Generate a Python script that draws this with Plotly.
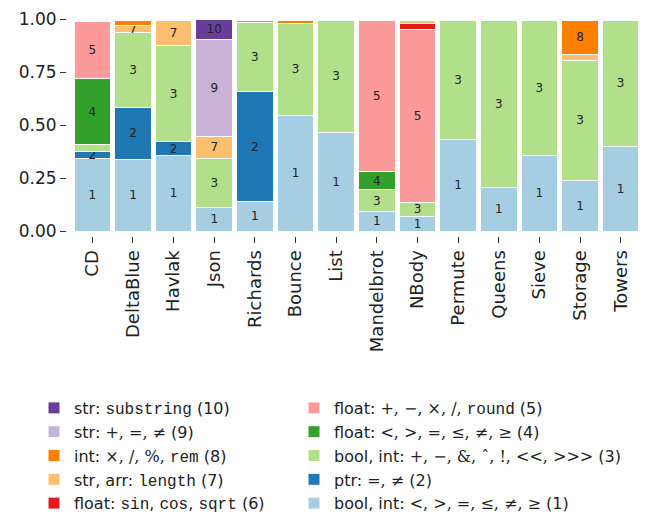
import plotly.graph_objects as go

benchmarks = ["CD", "DeltaBlue", "Havlak", "Json", "Richards", "Bounce", "List",
              "Mandelbrot", "NBody", "Permute", "Queens", "Sieve", "Storage", "Towers"]

# fraction of operations per category (1..10), stacked bottom->top
cat1 = [0.340, 0.337, 0.357, 0.113, 0.137, 0.546, 0.463, 0.093, 0.068, 0.433, 0.205, 0.357, 0.239, 0.397]
cat2 = [0.036, 0.246, 0.063, 0.0, 0.523, 0.0, 0.0, 0.0, 0.0, 0.0, 0.0, 0.0, 0.0, 0.0]
cat3 = [0.030, 0.352, 0.454, 0.230, 0.324, 0.433, 0.532, 0.101, 0.068, 0.562, 0.790, 0.638, 0.567, 0.598]
cat4 = [0.315, 0.0, 0.0, 0.0, 0.0, 0.0, 0.0, 0.088, 0.0, 0.0, 0.0, 0.0, 0.0, 0.0]
cat5 = [0.265, 0.0, 0.0, 0.0, 0.0, 0.0, 0.0, 0.713, 0.816, 0.0, 0.0, 0.0, 0.0, 0.0]
cat6 = [0.0, 0.0, 0.0, 0.0, 0.0, 0.0, 0.0, 0.0, 0.028, 0.0, 0.0, 0.0, 0.0, 0.0]
cat7 = [0.0, 0.034, 0.121, 0.104, 0.0, 0.0, 0.0, 0.0, 0.015, 0.0, 0.0, 0.0, 0.027, 0.0]
cat8 = [0.0, 0.025, 0.0, 0.0, 0.010, 0.012, 0.0, 0.0, 0.0, 0.0, 0.0, 0.0, 0.162, 0.0]
cat9 = [0.0, 0.0, 0.0, 0.455, 0.0, 0.0, 0.0, 0.0, 0.0, 0.0, 0.0, 0.0, 0.0, 0.0]
cat10 = [0.0, 0.0, 0.0, 0.098, 0.0, 0.0, 0.0, 0.0, 0.0, 0.0, 0.0, 0.0, 0.0, 0.0]

series = [cat1, cat2, cat3, cat4, cat5, cat6, cat7, cat8, cat9, cat10]

TT = "font-family:'Liberation Mono'"
MS = "font-family:'DejaVu Serif'"
def tt(s):
    return f"<span style=\"{TT}\">{s}</span>"
def m(s):
    return f"<span style=\"{MS}\">{s}</span>"

legend_names = [
    "bool, int: " + m("&lt;, &gt;, =, ≤, ≠, ≥") + " (1)",
    "ptr: " + m("=, ≠") + " (2)",
    "bool, int: " + m("+, −, &amp;, ˆ, !, &lt;&lt;, &gt;&gt;&gt;") + " (3)",
    "float: " + m("&lt;, &gt;, =, ≤, ≠, ≥") + " (4)",
    "float: " + m("+, −, ×, /,") + " " + tt("round") + " (5)",
    "float: " + tt("sin") + ", " + tt("cos") + ", " + tt("sqrt") + " (6)",
    "str, arr: " + tt("length") + " (7)",
    "int: " + m("×, /, %,") + " " + tt("rem") + " (8)",
    "str: " + m("+, =, ≠") + " (9)",
    "str: " + tt("substring") + " (10)",
]

colors = ["#a6cee3", "#1f78b4", "#b2df8a", "#33a02c", "#fb9a99",
          "#e31a1c", "#fdbf6f", "#ff7f00", "#cab2d6", "#6a3d9a"]

FONT = "DejaVu Sans"

fig = go.Figure()
for k, (vals, name, col) in enumerate(zip(series, legend_names, colors), start=1):
    labels = [str(k) if v > 0.032 else "" for v in vals]
    fig.add_trace(go.Bar(
        x=benchmarks, y=vals, name=name,
        marker=dict(color=col, line=dict(color="white", width=1)),
        text=labels, textposition="inside", insidetextanchor="middle",
        textangle=0,
        textfont=dict(size=12, color="#222222", family=FONT),
        constraintext="none", cliponaxis=False,
        legend="legend" if k >= 6 else "legend2",
        hoverinfo="skip",
    ))

# page is offset 8px by the body margin.
# paper region on the page: x 66..641, y 19..236 (axes offset from the bars)
def py(pix):
    return (236 - pix) / 217.0
def px(pix):
    return (pix - 66) / 575.0

fig.update_layout(
    barmode="stack",
    bargap=0.1,
    width=662, height=515,
    margin=dict(l=58, r=29, t=11, b=287, autoexpand=False),
    plot_bgcolor="white", paper_bgcolor="white",
    font=dict(family=FONT, size=16, color="#222222"),
    uniformtext=dict(minsize=12, mode="show"),
    xaxis=dict(domain=[px(72), 1], anchor="free", position=0,
               showline=False, showgrid=False, ticks="outside", ticklen=6,
               tickcolor="#333333", tickangle=-90, tickfont=dict(size=18),
               automargin=False),
    yaxis=dict(domain=[py(231), 1], anchor="free", position=0,
               range=[0, 1.0], tickvals=[0, 0.25, 0.5, 0.75, 1.0],
               tickformat=".2f", showline=False, showgrid=False, zeroline=False,
               ticks="outside", ticklen=6, tickcolor="#333333",
               tickfont=dict(size=17), automargin=False,
               ticklabeloverflow="allow"),
    legend=dict(x=px(34), y=py(391),
                xanchor="left", yanchor="top", traceorder="reversed",
                font=dict(size=16), tracegroupgap=0, itemwidth=30,
                bgcolor="rgba(0,0,0,0)"),
    legend2=dict(x=px(294), y=py(391),
                 xanchor="left", yanchor="top", traceorder="reversed",
                 font=dict(size=16), tracegroupgap=0, itemwidth=30,
                 bgcolor="rgba(0,0,0,0)"),
)

fig.write_html("out.html")
